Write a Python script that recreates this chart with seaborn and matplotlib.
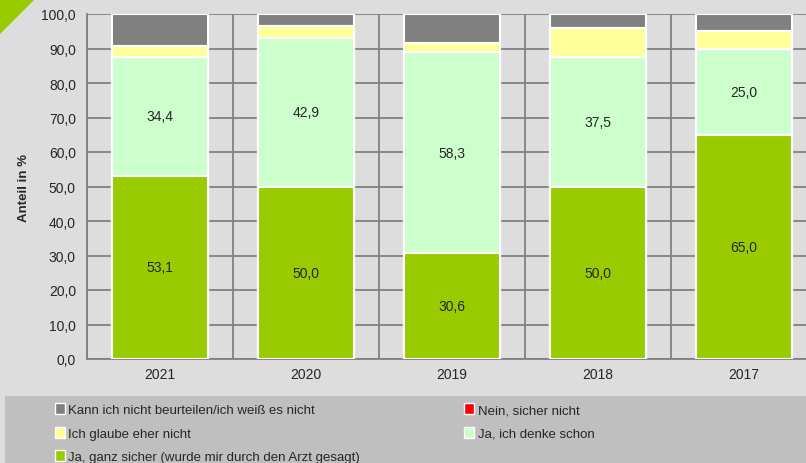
import matplotlib
matplotlib.use("Agg")
import matplotlib.pyplot as plt
import numpy as np
import pandas as pd
import seaborn as sns
from matplotlib.patches import Polygon, Rectangle
from matplotlib.ticker import FixedLocator

years = ["2021", "2020", "2019", "2018", "2017"]
ja_sicher = [53.1, 50.0, 30.6, 50.0, 65.0]
ja_denke = [34.4, 42.9, 58.3, 37.5, 25.0]
eher_nicht = [3.1, 3.6, 2.8, 8.3, 5.0]
nein = [0.0, 0.0, 0.0, 0.0, 0.0]
weiss_nicht = [9.4, 3.6, 8.3, 4.2, 5.0]

labels = [
    "Ja, ganz sicher (wurde mir durch den Arzt gesagt)",
    "Ja, ich denke schon",
    "Ich glaube eher nicht",
    "Nein, sicher nicht",
    "Kann ich nicht beurteilen/ich weiß es nicht",
]
colors = ["#99cc00", "#ccffcc", "#ffff99", "#ff0000", "#808080"]
series = [ja_sicher, ja_denke, eher_nicht, nein, weiss_nicht]

sns.set_style("white")
plt.rcParams["font.family"] = ["Liberation Sans", "DejaVu Sans"]

fig = plt.figure(figsize=(8.06, 4.64), dpi=100)
fig.patch.set_facecolor("#dddddd")
ax = fig.add_axes([87 / 806, 104 / 464, 730 / 806, 345 / 464])
ax.set_facecolor("#dddddd")

# stacked bars: draw cumulative totals from top layer down
cum = np.cumsum(np.array(series), axis=0)
handles = {}
for i in range(len(series) - 1, -1, -1):
    df = pd.DataFrame({"year": years, "val": cum[i]})
    sns.barplot(data=df, x="year", y="val", color=colors[i], width=0.66,
                edgecolor="white", linewidth=1.5, saturation=1, ax=ax, zorder=3)
    handles[labels[i]] = Rectangle((0, 0), 1, 1, facecolor=colors[i],
                                   edgecolor="white", linewidth=1)

# value labels for the two green segments
for j in range(len(years)):
    ax.text(j, ja_sicher[j] / 2, f"{ja_sicher[j]:.1f}".replace(".", ","),
            ha="center", va="center", fontsize=10, zorder=5)
    ax.text(j, ja_sicher[j] + ja_denke[j] / 2, f"{ja_denke[j]:.1f}".replace(".", ","),
            ha="center", va="center", fontsize=10, zorder=5)

ax.set_ylim(0, 100)
ax.set_xlim(-0.5, 4.5)
ax.set_yticks(np.arange(0, 101, 10))
ax.set_yticklabels([f"{v:.1f}".replace(".", ",") for v in np.arange(0, 101, 10)],
                   fontsize=10)
ax.tick_params(axis="x", labelsize=10, length=0, pad=6)
ax.tick_params(axis="y", length=5, color="#808080", width=1.3, pad=3)
ax.xaxis.set_minor_locator(FixedLocator(np.arange(-0.5, 5, 1)))
ax.tick_params(axis="x", which="minor", length=5, color="#808080", width=1.3)
ax.grid(axis="y", color="#808080", linewidth=1.3, zorder=0)
ax.grid(axis="x", which="minor", color="#808080", linewidth=1.3, zorder=0)
ax.set_axisbelow(True)
for s in ["top", "right"]:
    ax.spines[s].set_visible(False)
for s in ["left", "bottom"]:
    ax.spines[s].set_color("#808080")
    ax.spines[s].set_linewidth(1.3)
ax.set_xlabel("")
ax.set_ylabel("Anteil in %", fontsize=9.5, fontweight="bold", labelpad=8)

# legend panel
fig.patches.append(Rectangle((5 / 806, 0), 1, 67 / 464, transform=fig.transFigure,
                             facecolor="#bfbfbf", edgecolor="none", zorder=0))
order = [labels[4], labels[2], labels[0], labels[3], labels[1]]
fig.legend([handles[l] for l in order], order, ncol=2, loc="upper left",
           bbox_to_anchor=(50 / 806, 65 / 464), frameon=False, fontsize=9.5,
           handlelength=0.7, handleheight=0.9, handletextpad=0.3,
           columnspacing=7.9, labelspacing=0.78, borderaxespad=0)

# green corner triangle
fig.patches.append(Polygon([(0, 1), (35 / 806, 1), (0, 1 - 35 / 464)], closed=True,
                           transform=fig.transFigure, facecolor="#99cc00",
                           edgecolor="none"))

fig.savefig("out.png", dpi=100, facecolor=fig.get_facecolor())
